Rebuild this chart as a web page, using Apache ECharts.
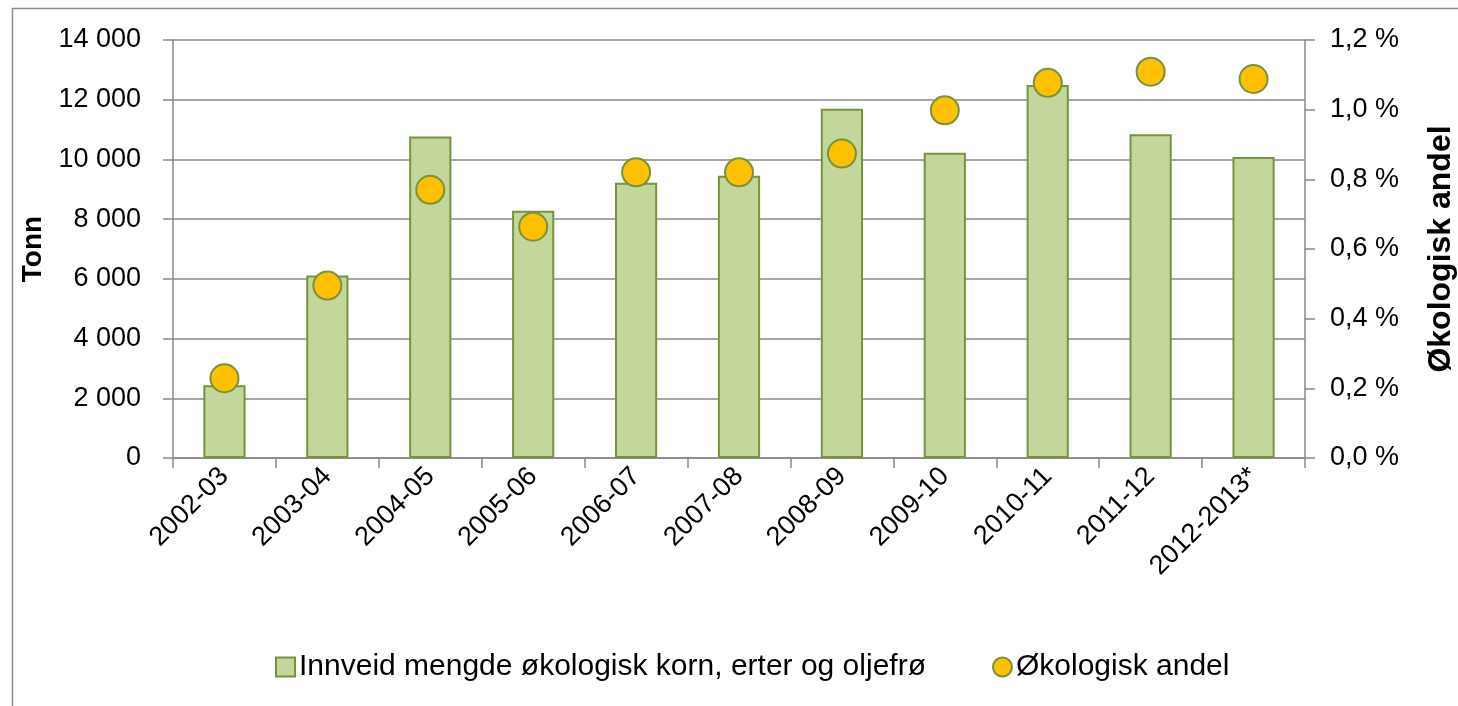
<!DOCTYPE html>
<html>
<head>
<meta charset="utf-8">
<script src="https://cdn.jsdelivr.net/npm/echarts@6/dist/echarts.min.js"></script>
<style>
html,body{margin:0;padding:0;background:#fff;}
#chart{width:1458px;height:706px;}
</style>
</head>
<body>
<div id="chart"></div>
<script>
const categories = ['2002-03','2003-04','2004-05','2005-06','2006-07','2007-08','2008-09','2009-10','2010-11','2011-12','2012-2013*'];
const tonnValues = [2440, 6110, 10770, 8280, 9220, 9450, 11700, 10220, 12490, 10840, 10080];
const shareValues = [0.229, 0.495, 0.770, 0.664, 0.820, 0.820, 0.874, 0.998, 1.077, 1.109, 1.088];
const barName = 'Innveid mengde økologisk korn, erter og oljefrø';
const dotName = 'Økologisk andel';
const leftAxisName = 'Tonn';
const rightAxisName = 'Økologisk andel';

const FONT = "'Liberation Sans', Arial, sans-serif";
const GRAY = '#898989';
const FS = 27;

const chart = echarts.init(document.getElementById('chart'), null, {renderer: 'canvas'});
chart.setOption({
  animation: false,
  backgroundColor: '#ffffff',
  textStyle: {fontFamily: FONT, color: '#000'},
  graphic: [{
    type: 'rect', left: 10, top: 6, silent: true,
    shape: {x: 0, y: 0, width: 1470, height: 720},
    style: {fill: 'none', stroke: '#8c8c8c', lineWidth: 1.5}
  }],
  grid: {left: 173, right: 153, top: 40, bottom: 248, containLabel: false, outerBoundsMode: 'none'},
  legend: {
    top: 647, left: 270,
    itemGap: 66, itemWidth: 19, itemHeight: 19,
    textStyle: {fontFamily: FONT, fontSize: 30, color: '#000', padding: [0,0,0,-1]},
    data: [
      {name: barName, icon: 'rect'},
      {name: dotName, icon: 'circle'}
    ]
  },
  xAxis: {
    type: 'category', data: categories, boundaryGap: true,
    axisLine: {lineStyle: {color: GRAY, width: 1.5}},
    axisTick: {show: true, length: 10, inside: false, alignWithLabel: false, lineStyle: {color: GRAY, width: 1.5}},
    axisLabel: {rotate: 45, fontSize: FS, fontFamily: FONT, color: '#000', margin: 14, interval: 0},
    splitLine: {show: false}
  },
  yAxis: [{
    type: 'value', min: 0, max: 14000, interval: 2000,
    name: leftAxisName, nameLocation: 'middle', nameGap: 121, nameRotate: 90,
    nameTextStyle: {fontFamily: FONT, fontSize: 28, fontWeight: 'bold', color: '#000'},
    axisLine: {show: true, lineStyle: {color: GRAY, width: 1.5}},
    axisTick: {show: true, length: 10, lineStyle: {color: GRAY, width: 1.5}},
    axisLabel: {fontSize: FS, fontFamily: FONT, color: '#000', margin: 32,
      formatter: v => String(v).replace(/\B(?=(\d{3})+(?!\d))/g, ' ')},
    splitLine: {show: true, lineStyle: {color: GRAY, width: 1.5}}
  }, {
    type: 'value', min: 0, max: 1.2, interval: 0.2, position: 'right',
    name: rightAxisName, nameLocation: 'middle', nameGap: 120, nameRotate: 90,
    nameTextStyle: {fontFamily: FONT, fontSize: 32, fontWeight: 'bold', color: '#000'},
    axisLine: {show: true, lineStyle: {color: GRAY, width: 1.5}},
    axisTick: {show: true, length: 10, lineStyle: {color: GRAY, width: 1.5}},
    axisLabel: {fontSize: FS, fontFamily: FONT, color: '#000', margin: 25,
      formatter: v => v.toFixed(1).replace('.', ',') + ' %'},
    splitLine: {show: false}
  }],
  series: [{
    name: barName, type: 'bar', data: tonnValues, yAxisIndex: 0,
    barWidth: '41%',
    itemStyle: {color: '#c3d69b', borderColor: '#77933c', borderWidth: 2}
  }, {
    name: dotName, type: 'scatter', data: shareValues, yAxisIndex: 1,
    symbol: 'circle', symbolSize: 28,
    itemStyle: {color: '#ffc000', borderColor: '#77933c', borderWidth: 2, opacity: 1},
    z: 5
  }]
});
</script>
</body>
</html>
